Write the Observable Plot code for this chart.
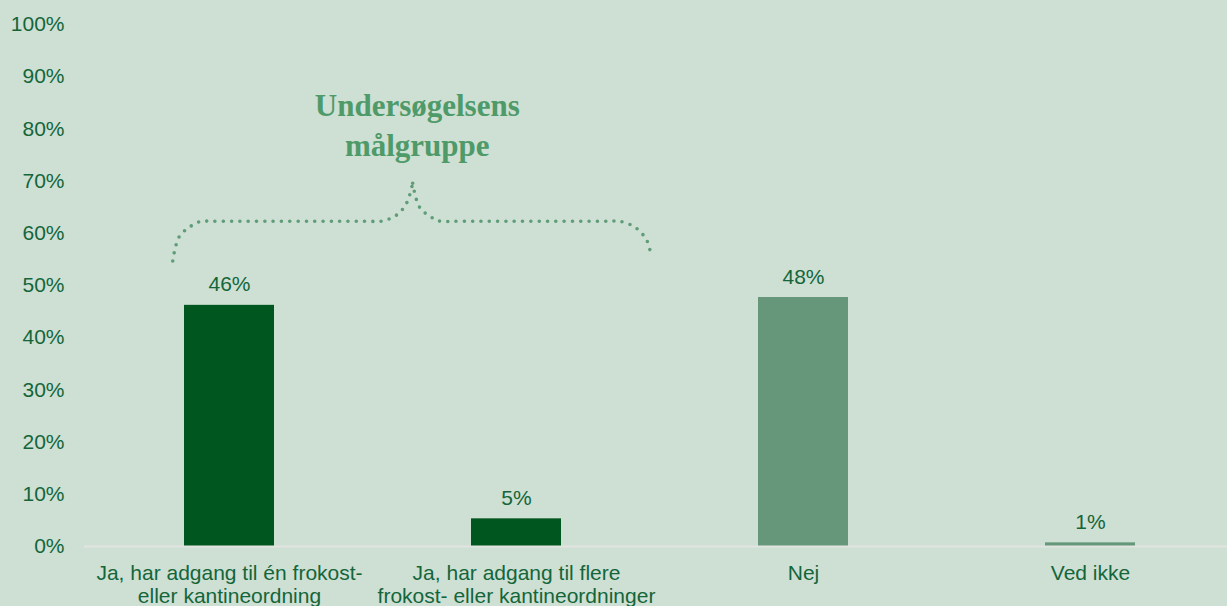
<!DOCTYPE html>
<html>
<head>
<meta charset="utf-8">
<script src="https://cdn.jsdelivr.net/npm/d3@7"></script>
<script src="https://cdn.jsdelivr.net/npm/@observablehq/plot@0.6"></script>
<style>
  html, body { margin: 0; padding: 0; background: #cedfd4; }
  #chart svg { display: block; }
</style>
</head>
<body>
<div id="chart"></div>
<script>
// ---- data ----
const categories = [
  "Ja, har adgang til én frokost-\neller kantineordning",
  "Ja, har adgang til flere\nfrokost- eller kantineordninger",
  "Nej",
  "Ved ikke"
];
const values = [46.2, 5.3, 47.7, 0.7];
const valueLabels = ["46%", "5%", "48%", "1%"];
const groups = ["målgruppe", "målgruppe", "øvrige", "øvrige"];
const yTicks = [0, 10, 20, 30, 40, 50, 60, 70, 80, 90, 100];
const annotationLines = ["Undersøgelsens", "målgruppe"];
const annotationX = 0.656;           // in category-step units (0 = first category centre)
const annotationY = [82.4, 74.7];    // percent (baseline of each line)
// brace halves: [category-step units, percent]
const braceLeft = [[-0.196, 54.6], [-0.174, 59.2], [-0.132, 61.3], [-0.097, 62.2], [-0.06, 62.2],
                   [0.49, 62.2], [0.529, 62.2], [0.584, 63.4], [0.619, 65.7], [0.640, 69.5]];
const braceRight = [[0.640, 69.5], [0.664, 64.9], [0.710, 62.8], [0.737, 62.2], [0.78, 62.2],
                    [1.32, 62.2], [1.363, 62.2], [1.419, 60.9], [1.457, 58.4], [1.471, 55.4]];

const rows = categories.map((c, i) => ({category: c, value: values[i], label: valueLabels[i], group: groups[i]}));

const textColor = "#13663a";

function braceMark(index, scales) {
  const x = scales.x, y = scales.y;
  const bw = x.bandwidth ? x.bandwidth() : 0;
  const c0 = x(categories[0]) + bw / 2, c1 = x(categories[1]) + bw / 2;
  const px = t => c0 + t * (c1 - c0);
  const g = d3.create("svg:g");
  const line = d3.line().curve(d3.curveCatmullRom.alpha(0.5));
  for (const seg of [braceLeft, braceRight]) {
    g.append("path")
      .attr("d", line(seg.map(([t, v]) => [px(t), y(v)])))
      .attr("fill", "none")
      .attr("stroke", "#5f9c78")
      .attr("stroke-width", 3.6)
      .attr("stroke-linecap", "round")
      .attr("stroke-dasharray", "0 8.3");
  }
  const t = g.append("text")
    .attr("text-anchor", "middle")
    .attr("font-family", "'Liberation Serif', 'Times New Roman', serif")
    .attr("font-weight", "bold")
    .attr("font-size", 31)
    .attr("fill", "#4e9a68");
  annotationLines.forEach((s, i) => {
    t.append("tspan").attr("x", px(annotationX)).attr("y", y(annotationY[i])).text(s);
  });
  return g.node();
}

const chart = Plot.plot({
  width: 1227,
  height: 606,
  marginTop: 24,
  marginBottom: 60,
  marginLeft: 84,
  marginRight: 0,
  style: {background: "#cedfd4", color: textColor, fontFamily: "'Liberation Sans', Arial, sans-serif", fontSize: "21px", overflow: "visible"},
  x: {domain: categories, range: [84, 1234], paddingInner: 0.687, paddingOuter: 0.3435, label: null},
  y: {domain: [0, 100], label: null},
  color: {domain: ["målgruppe", "øvrige"], range: ["#00561f", "#67977a"]},
  marks: [
    Plot.barY(rows, {x: "category", y: "value", fill: "group"}),
    Plot.ruleY([0], {stroke: "#e2e4df", strokeWidth: 2}),
    Plot.text(rows, {x: "category", y: "value", text: "label", lineAnchor: "bottom", dy: -14, fill: textColor, fontSize: 21}),
    Plot.axisY({ticks: yTicks, tickSize: 0, tickPadding: 20, tickFormat: d => d + "%", fontSize: 21, fill: textColor}),
    Plot.axisX({tickSize: 0, tickPadding: 16, fontSize: 21, lineHeight: 1.14, fill: textColor}),
    braceMark
  ]
});
document.getElementById("chart").appendChild(chart);
</script>
</body>
</html>
